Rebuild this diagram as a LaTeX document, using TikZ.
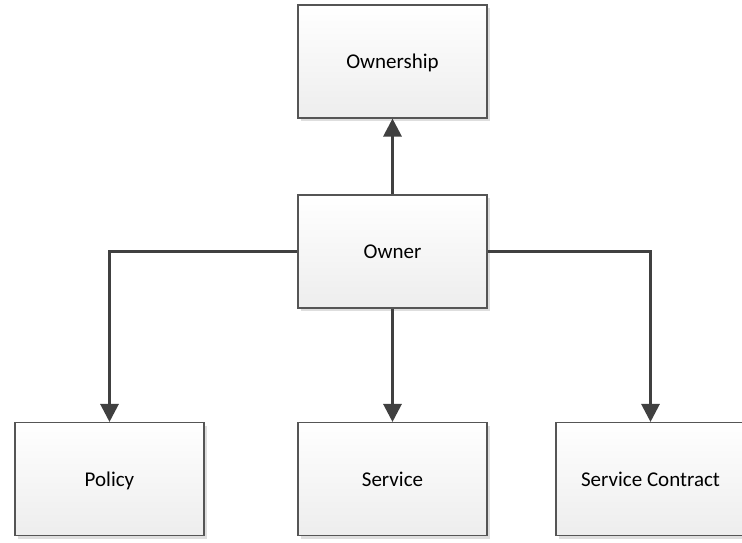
\documentclass[tikz,border=0pt]{standalone}
\usepackage{fontspec}
\setmainfont{Carlito}
\usetikzlibrary{arrows.meta,shadows}
\definecolor{linegray}{HTML}{404040}
\definecolor{framegray}{HTML}{555555}
\tikzset{
  entity/.style={rectangle, draw=framegray, line width=1.1pt,
    top color=white, bottom color=black!7,
    minimum width=189pt, minimum height=113pt, inner sep=0pt,
    text height=16pt, text depth=2pt,
    font=\fontsize{21}{25}\selectfont,
    drop shadow={shadow xshift=3pt, shadow yshift=-3pt, fill=black!13, opacity=1}},
  conn/.style={draw=linegray, line width=3pt,
    -{Triangle[length=18pt,width=18pt,fill=linegray]}}
}
\begin{document}
\begin{tikzpicture}[x=1pt,y=-1pt]
  \useasboundingbox[fill=white] (0,0) rectangle (742,542);
  \node[entity] (ownership) at (392.5,61.5) {Ownership};
  \node[entity] (owner) at (392.5,251.5) {Owner};
  \node[entity] (policy) at (109.5,479) {Policy};
  \node[entity] (service) at (392.5,479) {Service};
  \node[entity] (contract) at (650.5,479) {Service Contract};
  \draw[conn] (owner.north) -- (ownership.south);
  \draw[conn] (owner.west) -| (policy.north);
  \draw[conn] (owner.south) -- (service.north);
  \draw[conn] (owner.east) -| (contract.north);
\end{tikzpicture}
\end{document}
